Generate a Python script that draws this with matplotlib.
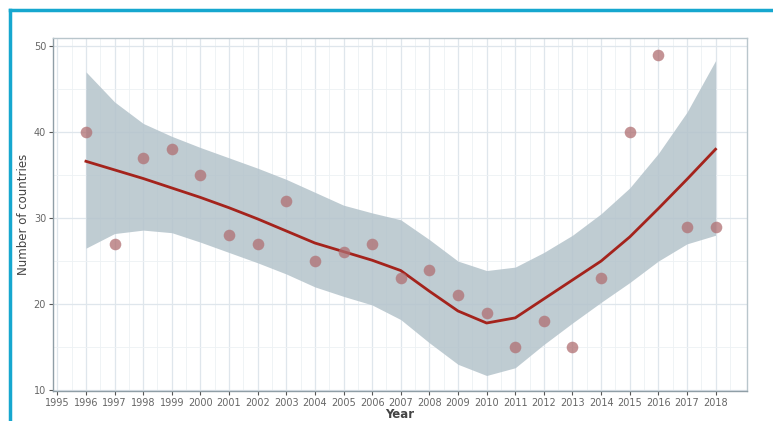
import numpy as np
import matplotlib.pyplot as plt

# Observed counts per year
years = list(range(1996, 2019))
counts = [40, 27, 37, 38, 35, 28, 27, 32, 25, 26, 27, 23, 24, 21, 19, 15, 18, 15, 23, 40, 49, 29, 29]

# Smoothed trend and its confidence band
trend = [36.6, 35.6, 34.6, 33.5, 32.4, 31.2, 29.9, 28.5, 27.1, 26.1, 25.1, 23.9,
         21.5, 19.2, 17.8, 18.4, 20.6, 22.8, 25.0, 27.8, 31.1, 34.5, 38.0]
upper = [47.0, 43.5, 41.0, 39.5, 38.2, 37.0, 35.8, 34.5, 33.0, 31.5, 30.6, 29.8,
         27.5, 25.0, 23.9, 24.3, 26.0, 28.0, 30.5, 33.5, 37.5, 42.3, 48.3]
lower = [26.5, 28.2, 28.6, 28.3, 27.2, 26.0, 24.8, 23.5, 22.0, 20.9, 19.9, 18.2,
         15.5, 13.0, 11.7, 12.6, 15.3, 17.8, 20.2, 22.5, 25.0, 27.0, 28.0]

fig = plt.figure(figsize=(7.73, 4.21), dpi=100)
ax = fig.add_axes([0.0686, 0.0713, 0.8978, 0.8384])

ax.fill_between(years, lower, upper, color="#b4c3cb", alpha=0.85, lw=0, zorder=2)
ax.plot(years, trend, color="#a4231c", lw=2, zorder=3, solid_joinstyle="round")
ax.scatter(years, counts, s=70, color="#b06f72", alpha=0.75, lw=0, zorder=4)

ax.set_xlim(1994.85, 2019.1)
ax.set_ylim(9.9, 50.93)
ax.set_xticks(range(1995, 2019))
ax.set_xticks(np.arange(1995.5, 2019, 1), minor=True)
ax.set_yticks([10, 20, 30, 40, 50])
ax.set_yticks([15, 25, 35, 45], minor=True)
ax.grid(which="major", color="#dfe6ec", lw=0.9, zorder=0)
ax.grid(which="minor", color="#edf1f4", lw=0.6, zorder=0)
ax.set_axisbelow(True)

ax.tick_params(axis="both", which="major", labelsize=7, colors="#555555", length=3, width=0.8, pad=2)
ax.tick_params(axis="both", which="minor", length=0)
for lab in ax.get_xticklabels() + ax.get_yticklabels():
    lab.set_color("#666666")
for side in ["top", "right"]:
    ax.spines[side].set_color("#b9c6cc")
for side in ["left", "bottom"]:
    ax.spines[side].set_color("#8f9ea6")
for sp in ax.spines.values():
    sp.set_linewidth(1)

ax.set_xlabel("Year", fontsize=8.5, color="#444444", fontweight="bold", labelpad=0)
ax.set_ylabel("Number of countries", fontsize=8.5, color="#444444", labelpad=3)

# cyan frame around the figure
fig.add_artist(plt.Line2D([10 / 773, 1], [1 - 10 / 421] * 2, color="#16a7cf", lw=2.5))
fig.add_artist(plt.Line2D([10 / 773] * 2, [0, 1 - 10 / 421], color="#16a7cf", lw=2.5))

fig.savefig("out.png", dpi=100)
